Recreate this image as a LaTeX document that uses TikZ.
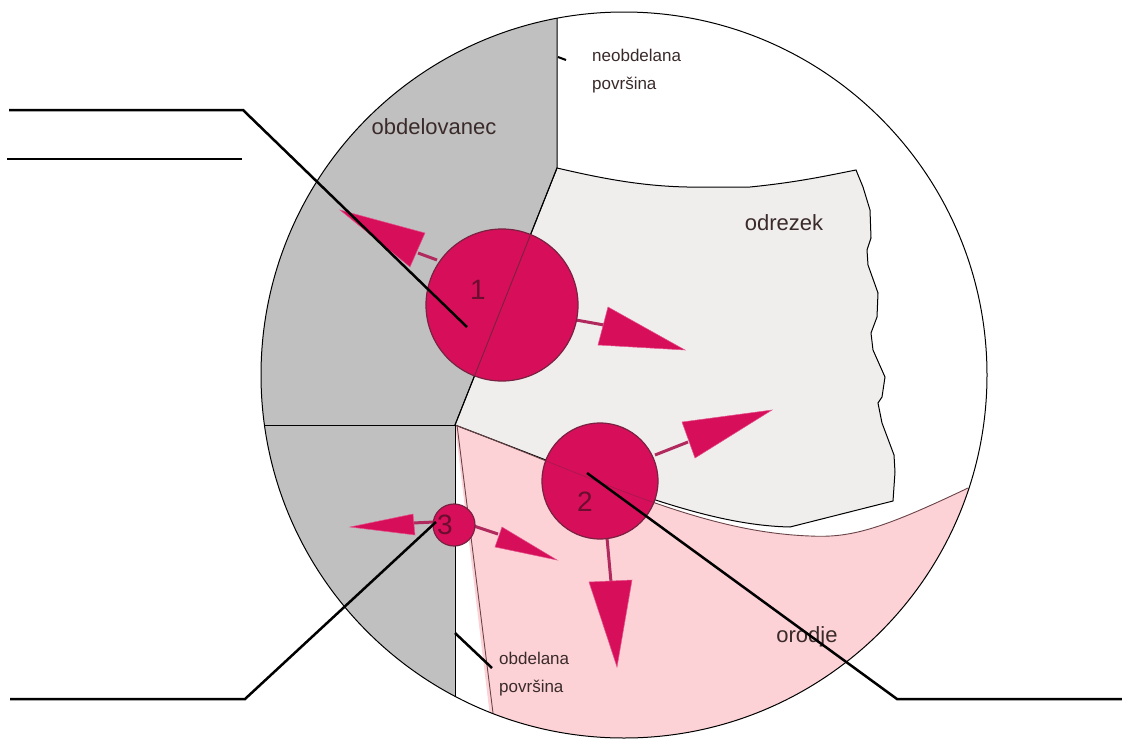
\documentclass[tikz,border=0pt]{standalone}
\usepackage{fontspec}
\setmainfont{Liberation Sans}
\definecolor{grayc}{HTML}{C0C0C0}
\definecolor{chipc}{HTML}{F0EDED}
\definecolor{toolc}{HTML}{FCD2D6}
\definecolor{magc}{HTML}{D70F5B}
\definecolor{rimc}{HTML}{7A2040}
\definecolor{shaftc}{HTML}{B02A5E}
\definecolor{labelc}{HTML}{3A2A2A}
\definecolor{numc}{HTML}{6B0D2E}
\definecolor{pinkline}{HTML}{6A4448}
\begin{document}
\begin{tikzpicture}[x=1pt,y=-1pt,
  outline/.style={draw=black,line width=1pt},
  biglbl/.style={text=labelc,font=\fontsize{22}{26}\selectfont,inner sep=0pt},
  smalllbl/.style={text=labelc,font=\fontsize{17}{28}\selectfont,align=left,inner sep=0pt,anchor=west},
  numlbl/.style={text=numc,font=\fontsize{28}{30}\selectfont,inner sep=0pt},
  dot/.style={circle,fill=magc,draw=rimc,line width=1.2pt,inner sep=0pt},
  shaft/.style={draw=shaftc,line width=3pt},
  head/.style={fill=magc,draw=magc!70!white,line width=0.5pt,line join=miter},
  leader/.style={draw=black,line width=2.5pt},
  tick/.style={draw=black,line width=2pt}]
\useasboundingbox (0,0) rectangle (1122,747);
\coordinate (O) at (624,375);
% fills clipped to the lens
\begin{scope}
  \clip (O) circle[radius=363pt];
  \fill[grayc] (557,-50) -- (557,168) -- (455,425) -- (455,800) -- (0,800) -- (0,-50) -- cycle;
  \fill[toolc] (455,425) .. controls (600,480) and (700,532) .. (810,536)
     .. controls (850,538) and (880,530) .. (968,488) -- (1100,420) -- (1100,800) -- (500,800) -- cycle;
\end{scope}
% chip (odrezek)
\draw[outline,fill=chipc] (557,168) .. controls (600,178) and (640,186) .. (687,187) -- (750,187)
   .. controls (800,182) and (830,175) .. (856,170)
   -- (863,187) -- (870,210) -- (871,238) -- (867,250) -- (868,265) -- (878,293) -- (877,317)
   -- (871,333) -- (873,350) -- (885,377) -- (882,397) -- (878,403) -- (882,423) -- (894,455)
   -- (895,472) -- (893,501) -- (790,527)
   .. controls (700,525) and (600,480) .. (455,425) -- cycle;
% tool boundary
\draw[pinkline,line width=0.9pt] (455,425) .. controls (600,480) and (700,532) .. (810,536)
     .. controls (850,538) and (880,530) .. (968,488);
\draw[pinkline,line width=0.9pt] (457,425) -- (493,713);
% workpiece boundaries
\draw[outline] (557,18) -- (557,168) -- (455,425);
\draw[outline] (264.5,425) -- (455,425) -- (455,696);
% lens
\draw[outline] (O) circle[radius=363pt];
% arrows
\draw[shaft] (437,260) -- (418,253);
\draw[head] (425,233) -- (410,267) -- (340,210) -- cycle;
\draw[shaft] (576,320) -- (604,325);
\draw[head] (608,307) -- (598,345) -- (685,350) -- cycle;
\draw[shaft] (655,455) -- (688,442);
\draw[head] (682,422) -- (695,458) -- (772,410) -- cycle;
\draw[shaft] (607,538) -- (611,582);
\draw[head] (589,582) -- (632,580) -- (617,667) -- cycle;
\draw[shaft] (434,522) -- (413,523);
\draw[head] (413,514) -- (415,535) -- (350,527) -- cycle;
\draw[shaft] (474,526) -- (498,534);
\draw[head] (502,527) -- (495,547) -- (557,560) -- cycle;
% cutting zones
\node[dot,minimum size=152pt] (c1) at (502,305) {};
\node[dot,minimum size=116pt] (c2) at (600,481) {};
\node[dot,minimum size=42pt] (c3) at (454,525) {};
\begin{scope}
  \clip (c1.center) circle[radius=75pt];
  \draw[rimc,line width=0.9pt] (557,168) -- (455,425);
\end{scope}
\begin{scope}
  \clip (c2.center) circle[radius=57pt];
  \draw[rimc,opacity=0.45,line width=0.8pt] (455,425) .. controls (600,480) and (700,532) .. (810,536);
\end{scope}
\node[numlbl] (n1) at (478,290) {1};
\node[numlbl] (n2) at (585,502) {2};
\node[numlbl] (n3) at (445,525) {3};
% labels
\node[biglbl] (lw) at (434,127) {obdelovanec};
\node[biglbl] (lc) at (784,223) {odrezek};
\node[biglbl] (lt) at (807,637) {orodje};
\node[smalllbl] (lu) at (592,71) {neobdelana\\površina};
\node[smalllbl] (lm) at (499,674) {obdelana\\površina};
% ticks
\coordinate (u1) at (558,57);
\coordinate (u2) at (566,60);
\draw[tick] (u1) -- (u2);
\coordinate (m1) at (455,633);
\coordinate (m2) at (492,668);
\draw[leader] (m1) -- (m2);
% leader lines
\coordinate (a1) at (9,110);
\coordinate (a2) at (243,110);
\coordinate (a3) at (467,327);
\draw[leader] (a1) -- (a2) -- (a3);
\coordinate (b1) at (7,159);
\coordinate (b2) at (242,159);
\draw[leader] (b1) -- (b2);
\coordinate (d1) at (10,699);
\coordinate (d2) at (245,699);
\coordinate (d3) at (436,522);
\draw[leader] (d1) -- (d2) -- (d3);
\coordinate (e1) at (1122,699);
\coordinate (e2) at (897,699);
\coordinate (e3) at (587,473);
\draw[leader] (e1) -- (e2) -- (e3);
\end{tikzpicture}
\end{document}
